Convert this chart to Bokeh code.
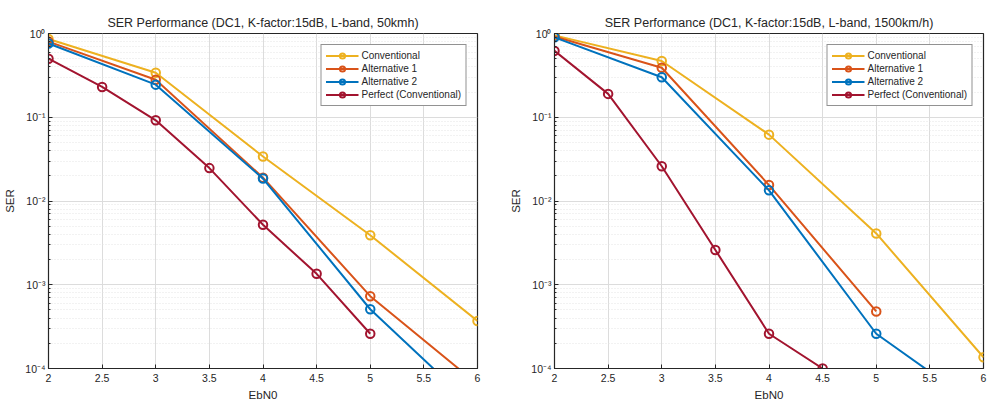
from bokeh.plotting import figure
from bokeh.layouts import row
from bokeh.models import (FixedTicker, CustomJSTickFormatter, Range1d, Legend, LegendItem)
from bokeh.embed import file_html
from bokeh.resources import INLINE

# ---------------- data ----------------
ebn0_int = [2, 3, 4, 5, 6]
ebn0_half = [2, 2.5, 3, 3.5, 4, 4.5, 5]
x_ticks = [2, 2.5, 3, 3.5, 4, 4.5, 5, 5.5, 6]
series_names = ["Conventional", "Alternative 1", "Alternative 2", "Perfect (Conventional)"]

left_title = "SER Performance (DC1, K-factor:15dB, L-band, 50kmh)"
left_conv = [0.86, 0.34, 0.034, 0.0039, 0.00037]
left_alt1_x = [2, 3, 4, 5, 6]
left_alt1 = [0.80, 0.28, 0.019, 0.00073, 0.000065]
left_alt2_x = [2, 3, 4, 5, 6]
left_alt2 = [0.76, 0.245, 0.0185, 0.00051, 0.000032]
left_perf = [0.50, 0.23, 0.092, 0.0247, 0.0052, 0.00135, 0.00026]

right_title = "SER Performance (DC1, K-factor:15dB, L-band, 1500km/h)"
right_conv = [0.95, 0.47, 0.062, 0.0041, 0.000136]
right_alt1_x = [2, 3, 4, 5]
right_alt1 = [0.92, 0.39, 0.0155, 0.00048]
right_alt2_x = [2, 3, 4, 5, 6]
right_alt2 = [0.90, 0.30, 0.0134, 0.00026, 0.000032]
right_perf_x = [2, 2.5, 3, 3.5, 4, 4.5]
right_perf = [0.62, 0.19, 0.026, 0.0026, 0.00026, 0.0001]

colors = ["#EDB120", "#D95319", "#0072BD", "#A2142F"]
FONT = "Liberation Sans"
TXT = "#262626"


def exp_formatter():
    return CustomJSTickFormatter(code="""
const sup = {'-':'\u207b','0':'\u2070','1':'\u00b9','2':'\u00b2','3':'\u00b3','4':'\u2074',
             '5':'\u2075','6':'\u2076','7':'\u2077','8':'\u2078','9':'\u2079'};
const e = Math.round(Math.log10(tick));
return '10' + String(e).split('').map(c => sup[c]).join('');
""")


def make_fig(title, data, left_border, right_border):
    p = figure(width=498, height=412, y_axis_type="log",
               x_range=Range1d(2, 6), y_range=Range1d(1e-4, 1),
               output_backend="svg", toolbar_location=None,
               min_border_left=left_border, min_border_right=right_border,
               min_border_top=33, min_border_bottom=44)
    p.title.text = title
    p.title.align = "center"
    p.title.text_font = FONT
    p.title.text_font_size = "12.5px"
    p.title.text_font_style = "normal"
    p.title.text_color = TXT
    p.title.offset = 0
    p.title.standoff = 8

    p.outline_line_color = TXT
    p.outline_line_width = 1.2

    for ax in (p.xaxis[0], p.yaxis[0]):
        ax.major_label_text_font = FONT
        ax.major_label_text_font_size = "10.5px"
        ax.major_label_text_color = TXT
        ax.axis_label_text_font = FONT
        ax.axis_label_text_font_size = "11.5px"
        ax.axis_label_text_font_style = "normal"
        ax.axis_label_text_color = TXT
        ax.axis_line_color = TXT
        ax.major_tick_line_color = TXT
        ax.minor_tick_line_color = TXT
        ax.major_tick_in = 4
        ax.major_tick_out = 0
        ax.minor_tick_in = 2
        ax.minor_tick_out = 0
        ax.major_label_standoff = 5

    p.xaxis[0].ticker = FixedTicker(ticks=x_ticks)
    p.xaxis[0].axis_label = "EbN0"
    p.xaxis[0].axis_label_standoff = 4
    p.yaxis[0].formatter = exp_formatter()
    p.yaxis[0].axis_label = "SER"
    p.yaxis[0].axis_label_standoff = 6
    p.yaxis[0].major_label_standoff = 3

    p.xgrid.grid_line_color = "#dcdcdc"
    p.ygrid.grid_line_color = "#dcdcdc"
    p.ygrid.minor_grid_line_color = "#e4e4e4"
    p.ygrid.minor_grid_line_dash = "1 2"

    items = []
    for name, (xs, ys), c in zip(series_names, data, colors):
        ln = p.line(xs, ys, line_color=c, line_width=2)
        sc = p.scatter(xs, ys, marker="circle", size=8.5, line_color=c, line_width=2,
                       fill_color="white", fill_alpha=0.0)
        items.append(LegendItem(label=name, renderers=[ln, sc]))

    leg = Legend(items=items, location="top_right")
    leg.label_text_font = FONT
    leg.label_text_font_size = "10px"
    leg.label_text_color = TXT
    leg.glyph_width = 33
    leg.glyph_height = 13
    leg.label_height = 13
    leg.spacing = 0
    leg.padding = 4
    leg.margin = 11
    leg.label_standoff = 3
    leg.border_line_color = TXT
    leg.border_line_width = 1.5
    leg.background_fill_alpha = 1.0
    p.add_layout(leg, "center")
    return p


left = make_fig(left_title,
                [(ebn0_int, left_conv), (left_alt1_x, left_alt1),
                 (left_alt2_x, left_alt2), (ebn0_half, left_perf)],
                48, 21)
right = make_fig(right_title,
                 [(ebn0_int, right_conv), (right_alt1_x, right_alt1),
                  (right_alt2_x, right_alt2), (right_perf_x, right_perf)],
                 56, 13)

layout = row(left, right)
open("out.html", "w").write(file_html(layout, INLINE))
